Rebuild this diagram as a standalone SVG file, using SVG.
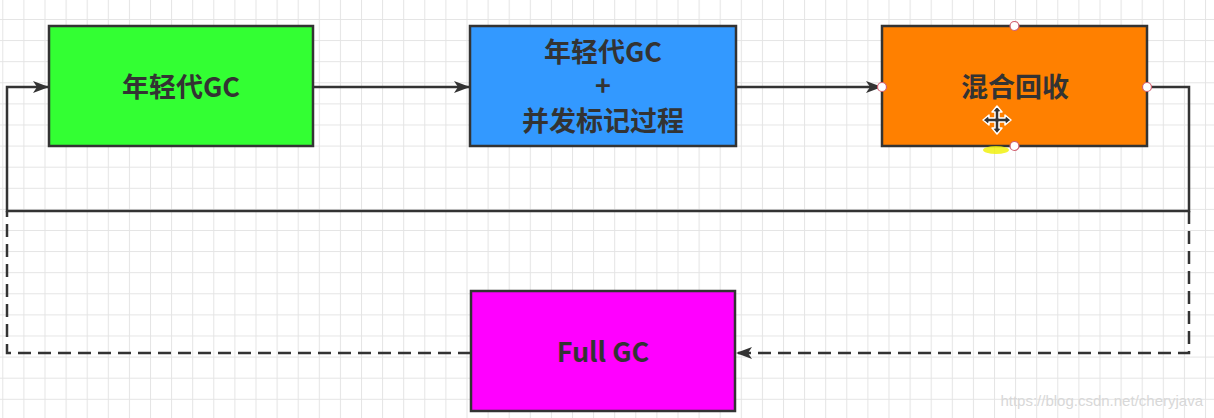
<svg xmlns="http://www.w3.org/2000/svg" width="1214" height="418" viewBox="0 0 1214 418">
  <style>
    .box { stroke: #333333; stroke-width: 2.5; }
    .lbl { font-family: "Noto Sans CJK SC", "Noto Sans", sans-serif; font-weight: bold; font-size: 27px; fill: #333333; text-anchor: middle; }
    .edge { fill: none; stroke: #333333; stroke-width: 2.5; }
    .dash { stroke-dasharray: 13 7; }
    .handle { fill: #ffffff; stroke: #d06070; stroke-width: 1.2; }
  </style>
  <defs>
    <pattern id="grid" x="2.3" y="19" width="21.1" height="21.1" patternUnits="userSpaceOnUse">
      <path d="M0.5 0 V21.1 M0 0.5 H21.1" stroke="#e4e4e4" stroke-width="1" fill="none"/>
    </pattern>
    <marker id="arrow" markerWidth="16" markerHeight="12" refX="15" refY="6" orient="auto" markerUnits="userSpaceOnUse">
      <path d="M0,0 L16,6 L0,12 L4,6 z" fill="#333333"/>
    </marker>
  </defs>

  <rect width="1214" height="418" fill="#ffffff"/>
  <rect width="1214" height="418" fill="url(#grid)"/>

  <g id="connectors">
    <path class="edge" d="M313,87 H469" marker-end="url(#arrow)"/>
    <path class="edge" d="M736,87 H881" marker-end="url(#arrow)"/>
    <path class="edge" d="M1147,87 H1189 V211 H7 V87 H48" marker-end="url(#arrow)"/>
    <path class="edge dash" d="M1189,211 V353 H737" marker-end="url(#arrow)"/>
    <path class="edge dash" d="M471,353 H7 V211"/>
  </g>

  <g id="node-young-gc">
    <rect class="box" x="49" y="26" width="264" height="120" fill="#33ff33"/>
    <text class="lbl" x="181" y="97">年轻代GC</text>
  </g>

  <g id="node-young-gc-concurrent-mark">
    <rect class="box" x="470" y="26" width="266" height="120" fill="#3399ff"/>
    <text class="lbl" x="603" y="62">年轻代GC</text>
    <text class="lbl" x="603" y="96" font-size="24">+</text>
    <text class="lbl" x="603" y="131">并发标记过程</text>
  </g>

  <g id="node-mixed-gc">
    <rect class="box" x="882" y="26" width="265" height="120" fill="#ff8000"/>
    <text class="lbl" x="1015" y="97">混合回收</text>
    <ellipse cx="996" cy="150" rx="13" ry="4" fill="#f0f000" opacity="0.8"/>
    <circle class="handle" cx="1014.5" cy="26" r="4.5"/>
    <circle class="handle" cx="882" cy="87" r="4.5"/>
    <circle class="handle" cx="1147" cy="87" r="4.5"/>
    <circle class="handle" cx="1014.5" cy="146" r="4.5" fill="#ffffe0"/>
    <g id="move-cursor" transform="translate(997,120)">
      <path d="M0,-14 L5,-8 L2,-8 L2,-2 L8,-2 L8,-5 L14,0 L8,5 L8,2 L2,2 L2,8 L5,8 L0,14 L-5,8 L-2,8 L-2,2 L-8,2 L-8,5 L-14,0 L-8,-5 L-8,-2 L-2,-2 L-2,-8 L-5,-8 z" fill="#333333" stroke="#ffffff" stroke-width="1.5" stroke-linejoin="round"/>
    </g>
  </g>

  <g id="node-full-gc">
    <rect class="box" x="471" y="291" width="264" height="120" fill="#ff00ff"/>
    <text class="lbl" x="603" y="362">Full GC</text>
  </g>

  <text x="1203" y="406" font-family="Liberation Sans, Arial, sans-serif" font-size="15" fill="#d8d8d8" text-anchor="end">https://blog.csdn.net/cheryjava</text>
</svg>
